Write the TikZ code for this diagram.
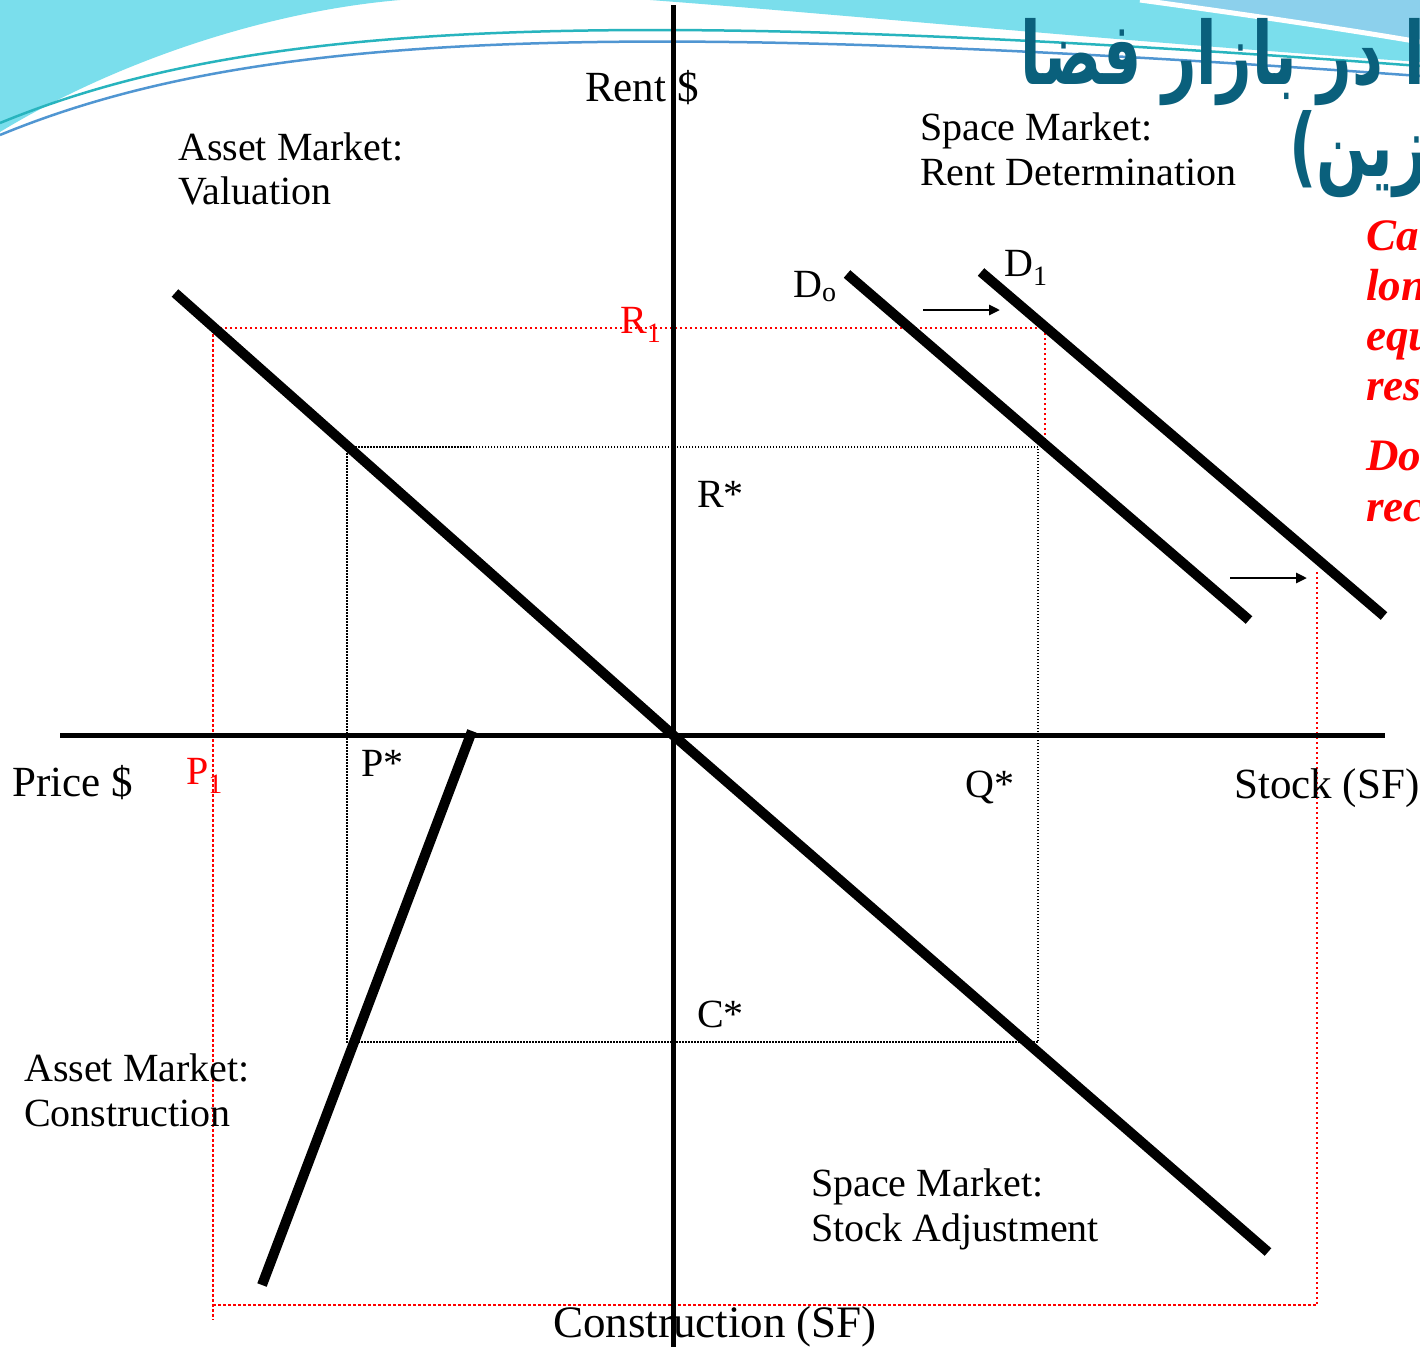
\documentclass[tikz,border=0pt]{standalone}
\usepackage{fontspec}
\usepackage{graphicx}
\setmainfont{Liberation Serif}
\newfontfamily\arabicfont[Script=Arabic]{DejaVu Sans}
\newfontfamily\parenfont{DejaVu Sans}
\TeXXeTstate=1
\usetikzlibrary{arrows.meta}
\definecolor{titleblue}{RGB}{10,96,124}
\definecolor{wavecyan}{RGB}{122,222,236}
\definecolor{wavelight}{RGB}{140,208,236}
\definecolor{lineteal}{RGB}{40,180,190}
\definecolor{lineblue}{RGB}{80,150,210}
\definecolor{redtxt}{RGB}{255,0,0}
\begin{document}
\begin{tikzpicture}[x=1pt,y=-1pt,
  axisline/.style={line width=5pt},
  curveline/.style={line width=10pt},
  shiftarrow/.style={line width=2.7pt,-{Triangle[length=11pt,width=10pt]}},
  eqbox/.style={line width=1.2pt,dash pattern=on 1.5pt off 1.5pt},
  redbox/.style={line width=2.5pt,redtxt,dash pattern=on 2.5pt off 2.5pt},
  lbl/.style={inner sep=0pt,anchor=base west,font=\fontsize{40}{45}\selectfont},
  axlbl/.style={inner sep=0pt,anchor=base west,font=\fontsize{43}{48}\selectfont},
  redlbl/.style={lbl,text=redtxt},
  sidetxt/.style={inner sep=0pt,anchor=base west,text=redtxt,font=\fontsize{45}{50}\selectfont\bfseries\itshape},
  titletxt/.style={inner sep=0pt,anchor=base east,text=titleblue,font=\arabicfont\bfseries\fontsize{60}{68}\selectfont}
]
\useasboundingbox (0,0) rectangle (1420,1347);
\clip (0,0) rectangle (1420,1347);
\fill[white] (0,0) rectangle (1420,1347);
% background waves
\fill[wavecyan] (0,0) -- (0,132) .. controls (110,65) and (260,12) .. (400,0) -- cycle;
\fill[wavecyan] (650,0) .. controls (850,15) and (1100,40) .. (1420,62) -- (1420,0) -- cycle;
\fill[wavelight] (1140,0) .. controls (1250,15) and (1350,30) .. (1420,42) -- (1420,0) -- cycle;
\draw[white,line width=5pt] (1140,0) .. controls (1250,15) and (1350,30) .. (1420,42);
\draw[lineteal,line width=2.5pt] (0,123) .. controls (250,20) and (600,5) .. (1420,66);
\draw[lineblue,line width=2.5pt] (0,135) .. controls (250,32) and (600,17) .. (1420,76);

% coordinates
\coordinate (o) at (673,735);
\coordinate (ytop) at (673,5);
\coordinate (ybot) at (673,1347);
\coordinate (xl) at (60,735);
\coordinate (xr) at (1385,735);
\coordinate (val) at (175,293);
\coordinate (adj) at (1268,1252);
\coordinate (c1) at (472,731);
\coordinate (c2) at (262,1285);
\coordinate (d0a) at (847,274);
\coordinate (d0b) at (1249,620);
\coordinate (d1a) at (981,272);
\coordinate (d1b) at (1384,616);
\coordinate (a1s) at (923,310);
\coordinate (a1e) at (1000,310);
\coordinate (a2s) at (1230,578);
\coordinate (a2e) at (1307,578);
\coordinate (e1) at (347,447);
\coordinate (e2) at (1038,1042);
\coordinate (r1) at (213,328);
\coordinate (r2) at (1045,328);
\coordinate (r3) at (1045,440);
\coordinate (r4) at (213,1320);
\coordinate (r5) at (213,1305);
\coordinate (r6) at (1317,1305);
\coordinate (r7) at (1317,570);

% dotted boxes
\draw[eqbox] (e1) rectangle (e2);
\draw[redbox] (r3) -- (r2) -- (r1) -- (r4);
\draw[redbox] (r5) -- (r6) -- (r7);

% axes
\draw[axisline] (ytop) -- (ybot);
\draw[axisline] (xl) -- (xr);

% curves
\draw[curveline] (val) -- (o);
\draw[curveline] (o) -- (adj);
\draw[curveline] (c1) -- (c2);
\draw[curveline] (d0a) -- (d0b);
\draw[curveline] (d1a) -- (d1b);
\draw[shiftarrow] (a1s) -- (a1e);
\draw[shiftarrow] (a2s) -- (a2e);

% title
\node[titletxt] (title1) at (1425,84) {\scalebox{1}[1.45]{\beginR ا در بازار فضا\endR}};
\node[titletxt] (title2) at (1428,176) {\scalebox{1}[1.45]{{\parenfont\bfseries(}\beginR زین\endR}};

% side text
\node[sidetxt] (s1) at (1366,250) {Ca};
\node[sidetxt] (s2) at (1366,300) {lon};
\node[sidetxt] (s3) at (1366,350) {equ};
\node[sidetxt] (s4) at (1366,400) {res};
\node[sidetxt] (s5) at (1366,470) {Do};
\node[sidetxt] (s6) at (1366,521) {rec};

% labels
\node[axlbl] (rent) at (585,101) {Rent \$};
\node[lbl] (am1) at (178,160) {Asset Market:};
\node[lbl] (am2) at (178,204) {Valuation};
\node[lbl] (sm1) at (920,140) {Space Market:};
\node[lbl] (sm2) at (920,185) {Rent Determination};
\node[lbl] (dzero) at (793,297) {D\textsubscript{o}};
\node[lbl] (done) at (1004,276) {D\textsubscript{1}};
\node[redlbl] (rone) at (620,333) {R\textsubscript{1}};
\node[lbl] (rstar) at (697,507) {R*};
\node[axlbl] (price) at (12,796) {Price \$};
\node[redlbl] (pone) at (186,784) {P\textsubscript{1}};
\node[lbl] (pstar) at (361,776) {P*};
\node[lbl] (qstar) at (965,797) {Q*};
\node[axlbl] (stock) at (1234,798) {Stock (SF)};
\node[lbl] (cstar) at (697,1027) {C*};
\node[lbl] (ac1) at (24,1081) {Asset Market:};
\node[lbl] (ac2) at (24,1126) {Construction};
\node[lbl] (sa1) at (811,1196) {Space Market:};
\node[lbl] (sa2) at (811,1241) {Stock Adjustment};
\node[inner sep=0pt,anchor=base west,font=\fontsize{45}{50}\selectfont] (constr) at (553,1337) {Construction (SF)};
\end{tikzpicture}
\end{document}
